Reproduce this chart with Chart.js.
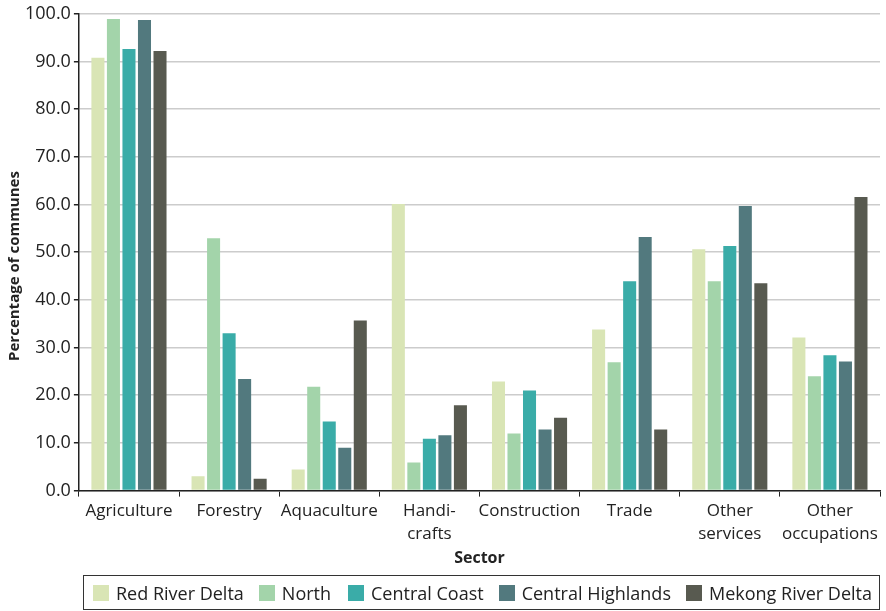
<!DOCTYPE html>
<html>
<head>
<meta charset="utf-8">
<script src="https://cdn.jsdelivr.net/npm/chart.js@4"></script>
<style>
  html, body { margin: 0; padding: 0; background: #fff; }
  #wrap { position: relative; width: 886px; height: 611px; }
  #legend {
    position: absolute; left: 83px; top: 575px; width: 795px; height: 33px;
    border: 1px solid #333; display: flex; align-items: center;
    font-family: "Open Sans", "Noto Sans", sans-serif; font-size: 18px; color: #222;
  }
  #legend .item { display: flex; align-items: center; white-space: nowrap; }
  #legend .box { width: 16px; height: 16px; margin: 0 7px 0 0; }
</style>
</head>
<body>
<div id="wrap">
  <canvas id="chart"></canvas>
  <div id="legend"></div>
</div>
<script>
// sectors on the x axis
var sectors = ['Agriculture', 'Forestry', 'Aquaculture', ['Handi-', 'crafts'], 'Construction', 'Trade', ['Other', 'services'], ['Other', 'occupations']];

// percentage of communes, per region
var redRiverDelta     = [90.8, 3.0, 4.4, 60.1, 22.9, 33.8, 50.6, 32.1];
var north             = [98.9, 52.9, 21.8, 5.9, 12.0, 26.9, 43.9, 24.0];
var centralCoast      = [92.6, 33.0, 14.5, 10.9, 21.0, 43.9, 51.3, 28.4];
var centralHighlands  = [98.7, 23.4, 9.0, 11.6, 12.8, 53.2, 59.7, 27.1];
var mekongRiverDelta  = [92.2, 2.5, 35.7, 17.9, 15.3, 12.8, 43.5, 61.6];

var regionNames = ['Red River Delta', 'North', 'Central Coast', 'Central Highlands', 'Mekong River Delta'];
var regionColors = ['#d9e5b5', '#a3d4aa', '#3aaca8', '#52797e', '#585a50'];
var seriesValues = [redRiverDelta, north, centralCoast, centralHighlands, mekongRiverDelta];

var FONT = '"Open Sans", "Noto Sans", sans-serif';

// y axis title, drawn a bit lower than the axis centre like the original
var yTitle = {
  id: 'yTitle',
  afterDraw: function (chart) {
    var ctx = chart.ctx;
    ctx.save();
    ctx.translate(15, 266);
    ctx.rotate(-Math.PI / 2);
    ctx.font = 'bold 15px ' + FONT;
    ctx.fillStyle = '#222';
    ctx.textAlign = 'center';
    ctx.textBaseline = 'middle';
    ctx.fillText('Percentage of communes', 0, 0);
    ctx.restore();
  }
};

var datasets = regionNames.map(function (name, i) {
  return {
    label: name,
    data: seriesValues[i],
    backgroundColor: regionColors[i],
    borderWidth: 0,
    categoryPercentage: 0.775,
    barPercentage: 0.84
  };
});

var chart = new Chart(document.getElementById('chart'), {
  type: 'bar',
  data: { labels: sectors, datasets: datasets },
  plugins: [yTitle],
  options: {
    responsive: true,
    maintainAspectRatio: false,
    animation: false,
    layout: { padding: { left: 22, right: 6, top: 8, bottom: 43 } },
    plugins: {
      tooltip: { enabled: false },
      legend: { display: false }
    },
    scales: {
      x: {
        grid: { drawOnChartArea: false, color: '#222', tickLength: 6, offset: true },
        border: { color: '#222', width: 1.5 },
        ticks: { color: '#222', font: { family: FONT, size: 17, lineHeight: 1.3 }, maxRotation: 0, autoSkip: false, padding: 4 },
        title: { display: true, text: 'Sector', color: '#222', font: { family: FONT, size: 16, weight: 'bold' }, padding: { top: 0, bottom: 0 } }
      },
      y: {
        min: 0,
        max: 100,
        ticks: {
          stepSize: 10,
          color: '#222',
          font: { family: FONT, size: 18 },
          padding: 3,
          callback: function (v) { return v.toFixed(1); }
        },
        grid: { color: '#cccccc', lineWidth: 1.5, tickLength: 5, tickColor: '#222' },
        border: { color: '#222', width: 1.5 }
      }
    }
  }
});

// html legend built from the chart's own legend items
var legendEl = document.getElementById('legend');
var items = chart.options.plugins.legend.labels.generateLabels(chart);
var gaps = [9, 15, 17, 15, 15];
items.forEach(function (it, i) {
  var d = document.createElement('div');
  d.className = 'item';
  d.style.marginLeft = gaps[i] + 'px';
  var b = document.createElement('span');
  b.className = 'box';
  b.style.background = it.fillStyle;
  var t = document.createElement('span');
  t.textContent = it.text;
  d.appendChild(b);
  d.appendChild(t);
  legendEl.appendChild(d);
});
</script>
</body>
</html>
